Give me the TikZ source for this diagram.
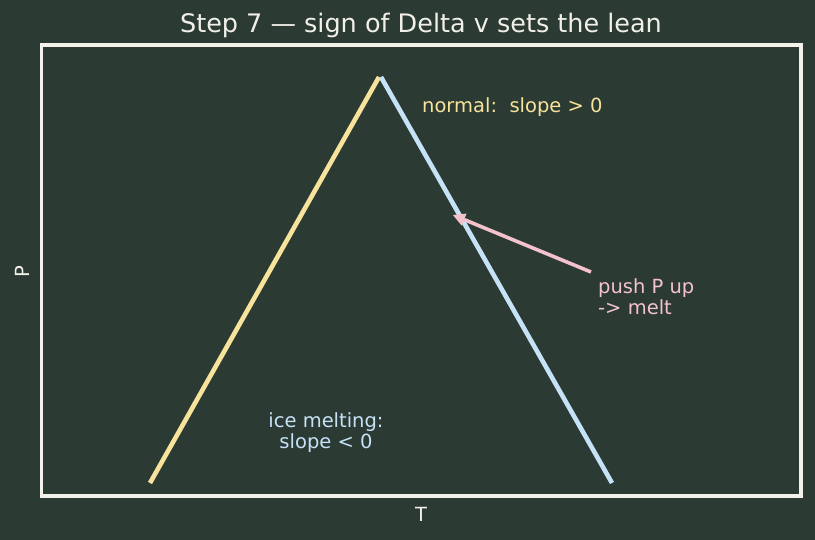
\documentclass[tikz,border=0pt]{standalone}
\usepackage{fontspec}
\setmainfont{DejaVu Sans}
\usetikzlibrary{calc}
\definecolor{bg}{HTML}{2B3A33}
\definecolor{frame}{HTML}{F2F2EA}
\definecolor{yel}{HTML}{F7E39A}
\definecolor{blu}{HTML}{C6E2F7}
\definecolor{pnk}{HTML}{F4C2CC}
\definecolor{txt}{HTML}{F0F0E8}
\tikzset{
  lbl/.style={font=\fontsize{19.5}{21}\selectfont, inner sep=0pt},
  curve/.style={line width=4.6pt},
}
\begin{document}
\begin{tikzpicture}[x=1pt,y=-1pt]
\fill[bg] (0,0) rectangle (815,540);
\useasboundingbox (0,0) rectangle (815,540);
\draw[frame, line width=3.8pt] (41.5,45) rectangle (801,496);
\coordinate (ys) at (150,483);
\coordinate (yt) at (379,77);
\coordinate (bs) at (381,77);
\coordinate (be) at (612,483);
\draw[curve, yel] (ys) -- (yt);
\draw[curve, blu] (bs) -- (be);
\node[font=\fontsize{25.5}{30}\selectfont, txt, inner sep=0pt] (title) at (421,25.5) {Step 7 — sign of Delta v sets the lean};
\node[lbl, yel, anchor=west] (normal) at (422,107.5) {normal:\ \ slope > 0};
\node[lbl, pnk, anchor=north west, align=left] (push) at (598,278) {push P up\\-> melt};
\node[lbl, blu, align=center] (ice) at (326,432.5) {ice melting:\\slope < 0};
\node[lbl, txt, rotate=90] (P) at (22,272) {P};
\node[lbl, txt] (T) at (421,514) {T};
\coordinate (astart) at (591,272);
\coordinate (aend) at (453,215);
\coordinate (abase) at ($(aend)!12pt!(astart)$);
\draw[pnk, line width=3.6pt] (astart) -- (abase);
\fill[pnk] (aend) -- ($(abase)!6.5pt!90:(aend)$) -- ($(abase)!6.5pt!-90:(aend)$) -- cycle;
\end{tikzpicture}
\end{document}
